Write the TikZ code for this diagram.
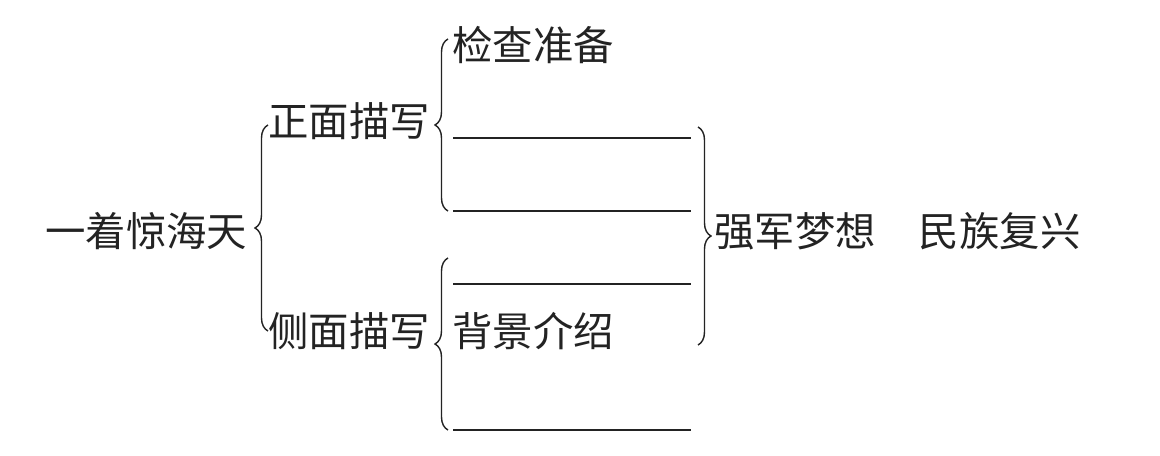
\documentclass[tikz,border=0pt]{standalone}
\usepackage{fontspec}
\setmainfont{Noto Sans CJK SC}
\usetikzlibrary{positioning,decorations.pathreplacing}
\definecolor{InkGray}{RGB}{35,35,35}

\begin{document}
\begin{tikzpicture}[x=0.02cm,y=-0.02cm,
 label/.style={inner sep=0pt,anchor=west,text=InkGray,font=\fontsize{23}{27}\selectfont},
 blank/.style={inner sep=0pt,anchor=west,minimum width=4.74cm,minimum height=0pt},
 bracket/.style={decorate,decoration={brace,amplitude=0.26cm},draw=InkGray,line width=0.8pt},
 rule/.style={draw=InkGray,line width=0.8pt}]
\useasboundingbox (0,0) rectangle (1160,456);
\node[label] (root) at (45,231) {一着惊海天};
\node[label] (front) at (268,121) {正面描写};
\node[label] (side) at (268,331) {侧面描写};
\node[label] (check) at (452,45) {检查准备};
\node[blank] (blank1) at (453,138) {};
\node[blank] (blank2) at (453,211) {};
\node[blank] (blank3) at (453,284) {};
\node[label] (bg) at (452,331) {背景介绍};
\node[blank] (blank4) at (453,430) {};
\node[label] (goal) at (714,231) {强军梦想\hspace{0.86cm}民族复兴};
% braces
\coordinate (b1top) at (268,125);
\coordinate (b1bot) at (268,331);
\coordinate (b2top) at (448,39);
\coordinate (b2bot) at (448,211);
\coordinate (b3top) at (448,258);
\coordinate (b3bot) at (448,430);
\coordinate (b4top) at (698,127);
\coordinate (b4bot) at (698,345);
\draw[bracket] (b1bot) -- (b1top);
\draw[bracket] (b2bot) -- (b2top);
\draw[bracket] (b3bot) -- (b3top);
\draw[bracket] (b4top) -- (b4bot);
% blanks to fill in
\foreach \b in {blank1,blank2,blank3,blank4}
 \draw[rule] (\b.west) -- (\b.east);
\end{tikzpicture}
\end{document}
